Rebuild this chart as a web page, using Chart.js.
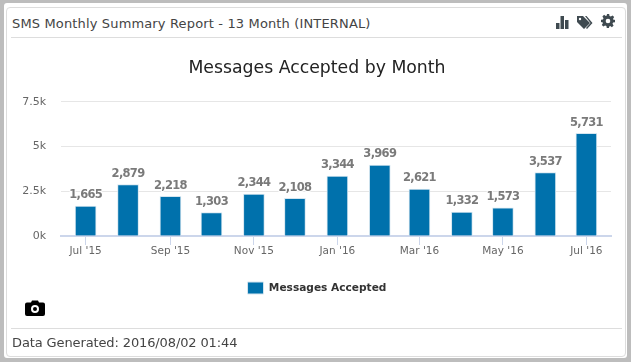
<!DOCTYPE html>
<html>
<head>
<meta charset="utf-8">
<script src="https://cdn.jsdelivr.net/npm/chart.js@4"></script>
<style>
  html, body { margin: 0; padding: 0; width: 631px; height: 362px; overflow: hidden; background: #bdbdbd; }
  body { font-family: "DejaVu Sans", sans-serif; position: relative; }
  #outer { position: absolute; left: 4px; top: 3px; width: 623px; height: 355px; background: #fff; border-radius: 3px; }
  #panel { position: absolute; left: 6px; top: 7px; width: 618px; height: 348px; background: #fff; border: 1px solid #ddd; border-radius: 4px; }
  #head { position: absolute; left: 12px; top: 15px; font-size: 13px; line-height: 17px; letter-spacing: .15px; color: #444; white-space: nowrap; }
  #foot { position: absolute; left: 12px; top: 334px; font-size: 13px; line-height: 17px; letter-spacing: -.12px; color: #444; white-space: nowrap; }
  .rule { position: absolute; left: 11px; width: 611px; height: 1px; background: #ddd; }
  #wrap { position: absolute; left: 20px; top: 40px; width: 602px; height: 280px; }
  svg.icon { position: absolute; }
</style>
</head>
<body>
<div id="outer"></div>
<div id="panel"></div>
<div id="head">SMS Monthly Summary Report - 13 Month (INTERNAL)</div>
<div class="rule" style="top:37px"></div>
<svg class="icon" style="left:556px;top:15px" width="13" height="14" viewBox="0 0 13 14"><path fill="#3f4a50" d="M0 8h3.500v6H0zM4.500 1H8v13H4.500zM9 5h3.500v9H9z"/></svg>
<svg class="icon" style="left:576px;top:15px" width="17" height="15" viewBox="0 0 17 15"><path fill="#3f4a50" d="M1 1h6l7 7-6 6-7-7zM9 1h1.500l6 7-5.500 6-1-1 4.500-5z"/><circle cx="4" cy="4" r="1.200" fill="#fff"/></svg>
<svg class="icon" style="left:601px;top:14px" width="14" height="14" viewBox="0 0 24 24"><path fill="#3f4a50" d="M10 0h4l.6 3.300 2.300 1 2.800-1.900 2.900 2.900-1.900 2.800 1 2.300L24 10v4l-3.300.6-1 2.300 1.900 2.800-2.900 2.900-2.800-1.900-2.300 1L13.900 24h-4l-.6-3.300-2.300-1-2.800 1.900-2.900-2.900 1.900-2.800-1-2.300L0 14v-4l3.300-.6 1-2.300-1.900-2.800 2.900-2.900 2.800 1.900 2.300-1zM12 8a4 4 0 1 0 0 8 4 4 0 0 0 0-8z" fill-rule="evenodd"/></svg>
<div id="wrap"><canvas id="smsChart"></canvas></div>
<svg class="icon" style="left:25px;top:300px" width="20" height="16" viewBox="0 0 20 16"><path fill="#000" fill-rule="evenodd" d="M2 2.500h4L7 .5h6l1 2h4a2 2 0 0 1 2 2V14a2 2 0 0 1-2 2H2a2 2 0 0 1-2-2V4.500a2 2 0 0 1 2-2zM10 5a4 4 0 1 0 0 8 4 4 0 0 0 0-8zm0 2a2 2 0 1 1 0 4 2 2 0 0 1 0-4z"/></svg>
<div class="rule" style="top:328px"></div>
<div id="foot">Data Generated: 2016/08/02 01:44</div>

<script>
const dayOffsets = [0, 31, 62, 92, 123, 153, 184, 215, 244, 275, 305, 336, 366]; // days since Jul 1 2015
const messagesAccepted = [1665, 2879, 2218, 1303, 2344, 2108, 3344, 3969, 2621, 1332, 1573, 3537, 5731];
const tickDays = [0, 62, 123, 184, 244, 305, 366];
const tickLabels = ["Jul '15", "Sep '15", "Nov '15", "Jan '16", "Mar '16", "May '16", "Jul '16"];
const yTicks = [0, 2500, 5000, 7500];
const yLabels = ['0k', '2.5k', '5k', '7.5k'];

// value labels above each bar, grey with a white halo
const barLabels = {
    id: 'barLabels',
    afterDatasetsDraw(chart) {
        const ctx = chart.ctx;
        const meta = chart.getDatasetMeta(0);
        ctx.save();
        ctx.font = 'bold 11.5px "DejaVu Sans"';
        ctx.letterSpacing = '-0.7px';
        ctx.textAlign = 'center';
        ctx.textBaseline = 'bottom';
        ctx.lineJoin = 'round';
        meta.data.forEach((bar, i) => {
            const txt = messagesAccepted[i].toLocaleString('en-US');
            ctx.strokeStyle = '#fff';
            ctx.lineWidth = 2;
            ctx.strokeText(txt, bar.x, bar.y - 5);
            ctx.fillStyle = '#7a7a7a';
            ctx.fillText(txt, bar.x, bar.y - 5);
        });
        ctx.restore();
    }
};

new Chart(document.getElementById('smsChart').getContext('2d'), {
    type: 'bar',
    data: {
        datasets: [{
            label: 'Messages Accepted',
            data: dayOffsets.map((d, i) => ({ x: d, y: messagesAccepted[i] })),
            backgroundColor: '#0071ac',
            borderColor: '#d5e6f0',
            borderWidth: 1,
            barThickness: 21
        }]
    },
    options: {
        responsive: true,
        maintainAspectRatio: false,
        animation: false,
        layout: { padding: { left: 3, right: 11, top: 0, bottom: 16 } },
        plugins: {
            tooltip: { enabled: false },
            title: {
                display: true,
                text: 'Messages Accepted by Month',
                color: '#222',
                font: { family: '"DejaVu Sans"', size: 17.3, weight: 'normal' },
                padding: { top: 18, bottom: 23 }
            },
            legend: {
                position: 'bottom',
                labels: {
                    color: '#333',
                    font: { family: '"DejaVu Sans"', size: 10.6, weight: 'bold' },
                    boxWidth: 16,
                    boxHeight: 12,
                    padding: 10
                }
            }
        },
        scales: {
            x: {
                type: 'linear',
                offset: false,
                min: -18,
                max: 384,
                afterBuildTicks(axis) { axis.ticks = tickDays.map(v => ({ value: v })); },
                afterFit(axis) { axis.height = 36; },
                ticks: {
                    autoSkip: false,
                    maxRotation: 0,
                    color: '#666',
                    font: { family: '"DejaVu Sans"', size: 10.5 },
                    padding: 0,
                    callback: value => tickLabels[tickDays.indexOf(value)]
                },
                grid: { offset: false, drawOnChartArea: false, color: '#ccd6eb', tickLength: 9, tickWidth: 1 },
                border: { color: '#ccd6eb', width: 2 }
            },
            y: {
                min: 0,
                max: 7500,
                afterBuildTicks(axis) { axis.ticks = yTicks.map(v => ({ value: v })); },
                afterFit(axis) { axis.width = 38; },
                ticks: {
                    color: '#666',
                    font: { family: '"DejaVu Sans"', size: 11 },
                    padding: 15,
                    callback: value => yLabels[yTicks.indexOf(value)]
                },
                grid: { color: '#e6e6e6', lineWidth: 1, drawTicks: false },
                border: { display: false }
            }
        }
    },
    plugins: [barLabels]
});
</script>
</body>
</html>
